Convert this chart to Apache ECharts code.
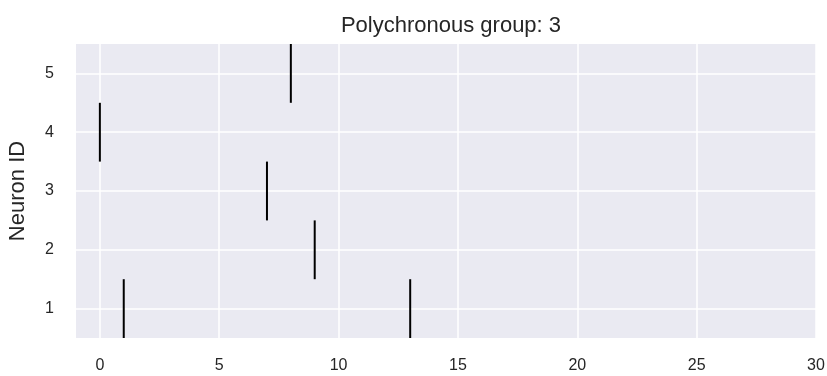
<!DOCTYPE html>
<html><head><meta charset="utf-8">
<script src="https://cdn.jsdelivr.net/npm/echarts@6/dist/echarts.min.js"></script>
<style>html,body{margin:0;padding:0;background:#fff}#c{width:827px;height:376px}</style>
</head><body><div id="c"></div>
<script>
const neuronIds = [1, 2, 3, 4, 5];
const spikeTimes = [[1, 13], [9], [7], [0], [8]];
const xTicks = [0, 5, 10, 15, 20, 25, 30];
const titleText = 'Polychronous group: 3';
const yName = 'Neuron ID';

const events = [];
neuronIds.forEach((id, i) => spikeTimes[i].forEach(t => events.push([t, id])));

const font = '"Liberation Sans", Arial, sans-serif';
const chart = echarts.init(document.getElementById('c'));
chart.setOption({
  animation: false,
  backgroundColor: '#fff',
  title: { text: titleText, left: 446, top: 10, textAlign: 'center',
    textStyle: { fontFamily: font, fontSize: 22, fontWeight: 'normal', color: '#262626' } },
  grid: { left: 76, right: 11, top: 44, bottom: 38, show: true, backgroundColor: '#EAEAF2', borderWidth: 0,
    containLabel: false, outerBoundsMode: 'none' },
  xAxis: { type: 'value', min: -1, max: 30,
    axisLine: { show: false },
    axisTick: { show: false, customValues: xTicks },
    splitLine: { lineStyle: { color: '#fff', width: 1.5 } },
    axisLabel: { fontFamily: font, fontSize: 16, color: '#262626', margin: 20, customValues: xTicks } },
  yAxis: { type: 'value', min: 0.5, max: 5.5, name: yName, nameLocation: 'middle', nameGap: 47,
    nameTextStyle: { fontFamily: font, fontSize: 22, color: '#262626' },
    axisLine: { show: false },
    axisTick: { show: false, customValues: neuronIds },
    splitLine: { lineStyle: { color: '#fff', width: 1.5 } },
    axisLabel: { fontFamily: font, fontSize: 16, color: '#262626', margin: 22, customValues: neuronIds } },
  series: [{
    type: 'custom',
    data: events,
    renderItem: (params, api) => {
      const t = api.value(0), id = api.value(1);
      const p1 = api.coord([t, id - 0.5]);
      const p2 = api.coord([t, id + 0.5]);
      return { type: 'line', shape: { x1: p1[0], y1: p1[1], x2: p2[0], y2: p2[1] },
        style: { stroke: '#000', lineWidth: 2 } };
    }
  }]
});
</script></body></html>
